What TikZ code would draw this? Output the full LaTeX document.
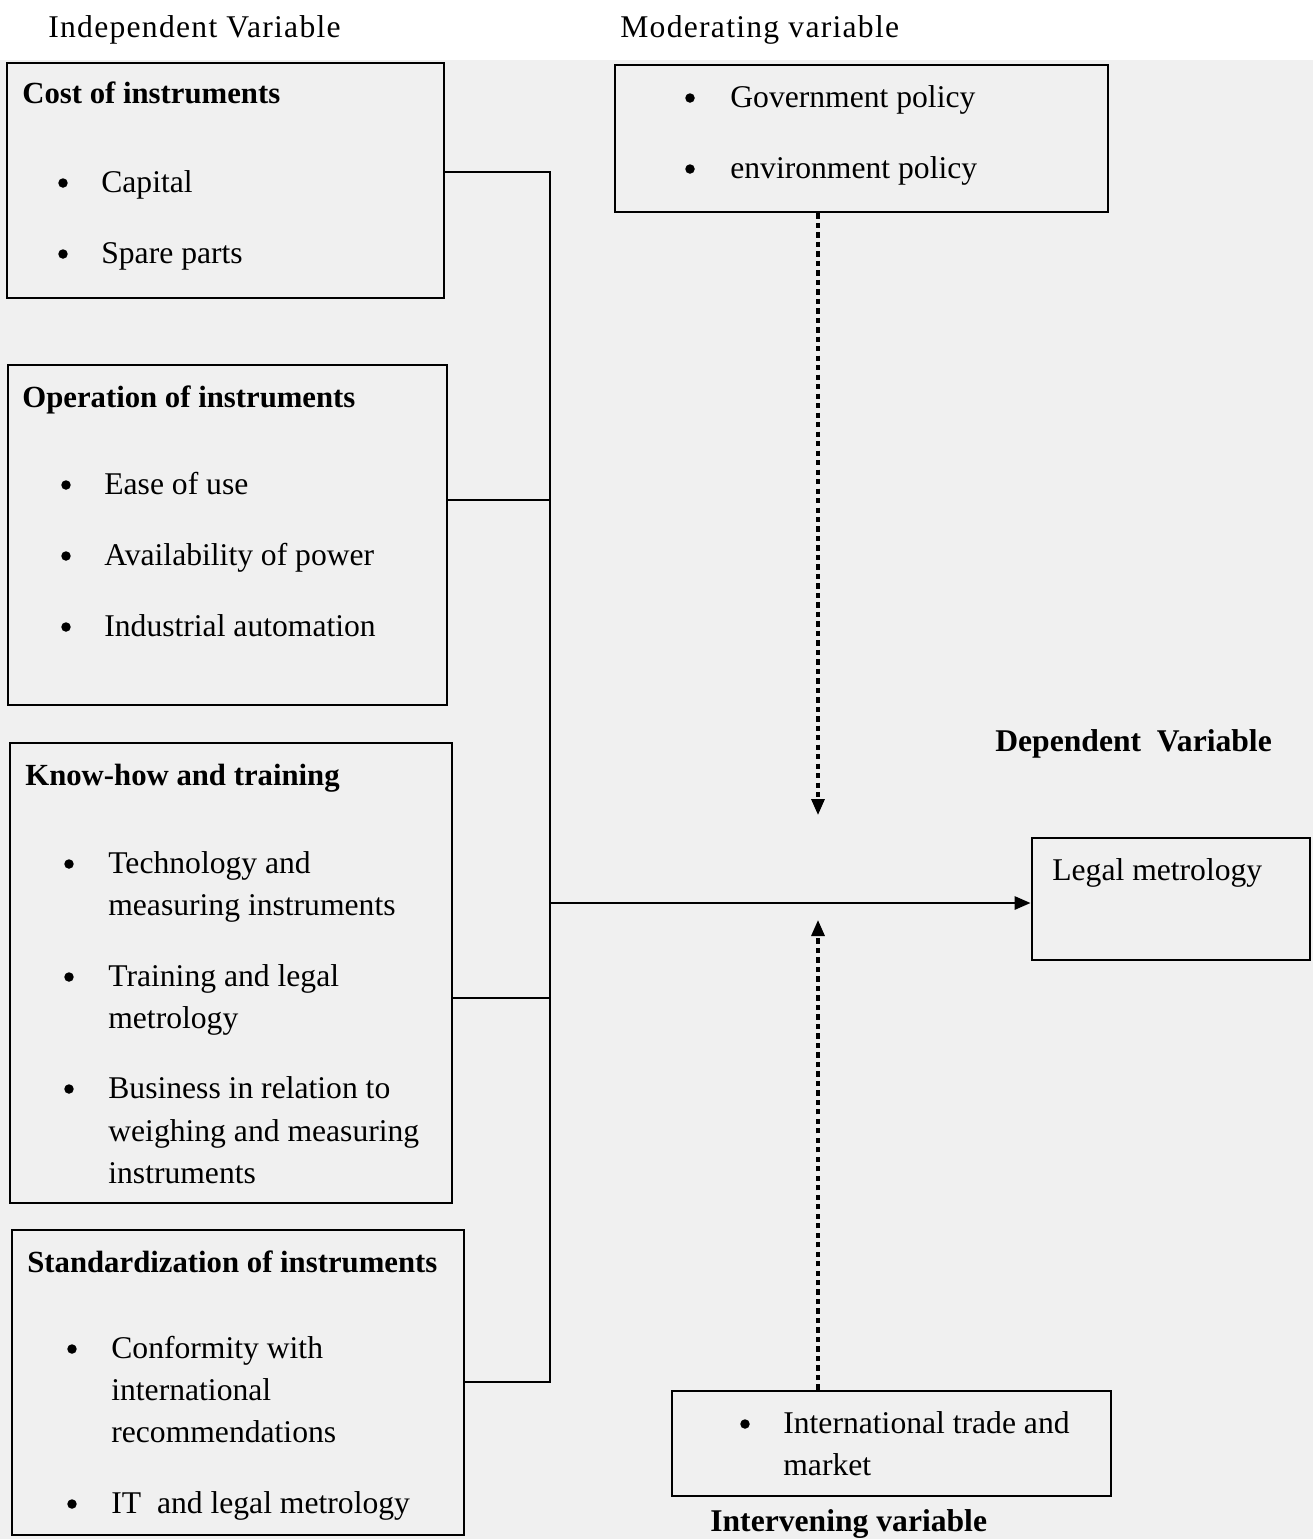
\documentclass[tikz,border=0pt]{standalone}
\usepackage{fontspec}
\setmainfont{Liberation Serif}
\usetikzlibrary{arrows.meta}

\tikzset{
  box/.style={draw, line width=1.6pt, inner sep=0pt},
  head/.style={anchor=base west, inner sep=0pt, font=\bfseries\fontsize{17.5}{21}\selectfont},
  item/.style={anchor=base west, inner sep=0pt, font=\fontsize{18}{22}\selectfont},
  dot/.style={circle, fill, inner sep=0pt, minimum size=0.19cm, yshift=0.18cm},
  link/.style={line width=1.6pt},
  dots/.style={line width=1.8pt, dash pattern=on 3pt off 2.4pt, -{Triangle[length=0.32cm,width=0.26cm]}}
}

\begin{document}
\begin{tikzpicture}[x=0.02cm, y=-0.02cm]
  \fill[black!6] (0,60) rectangle (1313,1539);
  \useasboundingbox (0,0) rectangle (1313,1539);

  % titles
  \node[item, font=\fontsize{18}{22}\selectfont\addfontfeature{LetterSpace=4}] (indep) at (48,37) {Independent Variable};
  \node[item, font=\fontsize{18}{22}\selectfont\addfontfeature{LetterSpace=4}] (moder) at (620,37) {Moderating variable};

  % boxes
  \node[box, minimum width=8.74cm, minimum height=4.70cm] (cost) at (225.5,180.5) {};
  \node[box, minimum width=8.78cm, minimum height=6.80cm] (oper) at (227.5,535) {};
  \node[box, minimum width=8.84cm, minimum height=9.20cm] (know) at (231,973) {};
  \node[box, minimum width=9.04cm, minimum height=6.10cm] (stand) at (238,1382.5) {};
  \node[box, minimum width=9.86cm, minimum height=2.94cm] (policy) at (861.5,138.5) {};
  \node[box, minimum width=5.56cm, minimum height=2.44cm] (legal) at (1171,899) {};
  \node[box, minimum width=8.78cm, minimum height=2.10cm] (trade) at (891.5,1443.5) {};

  % cost of instruments
  \node[head] (h1) at (22,103) {Cost of instruments};
  \node[dot] (b11) at (63,192) {};
  \node[item] (t11) at (101,192) {Capital};
  \node[dot] (b12) at (63,263) {};
  \node[item] (t12) at (101,263) {Spare parts};

  % operation of instruments
  \node[head] (h2) at (22,407) {Operation of instruments};
  \node[dot] (b21) at (66,494) {};
  \node[item] (t21) at (104,494) {Ease of use};
  \node[dot] (b22) at (66,565) {};
  \node[item] (t22) at (104,565) {Availability of power};
  \node[dot] (b23) at (66,636) {};
  \node[item] (t23) at (104,636) {Industrial automation};

  % know-how and training
  \node[head] (h3) at (25,785) {Know-how and training};
  \node[dot] (b31) at (69,873) {};
  \node[item] (t31) at (108,873) {Technology and};
  \node[item] (t31b) at (108,915) {measuring instruments};
  \node[dot] (b32) at (69,986) {};
  \node[item] (t32) at (108,986) {Training and legal};
  \node[item] (t32b) at (108,1028) {metrology};
  \node[dot] (b33) at (69,1098) {};
  \node[item] (t33) at (108,1098) {Business in relation to};
  \node[item] (t33b) at (108,1141) {weighing and measuring};
  \node[item] (t33c) at (108,1183) {instruments};

  % standardization of instruments
  \node[head] (h4) at (27,1272) {Standardization of instruments};
  \node[dot] (b41) at (72,1358) {};
  \node[item] (t41) at (111,1358) {Conformity with};
  \node[item] (t41b) at (111,1400) {international};
  \node[item] (t41c) at (111,1442) {recommendations};
  \node[dot] (b42) at (72,1513) {};
  \node[item] (t42) at (111,1513) {IT\ \ and legal metrology};

  % moderating
  \node[dot] (b51) at (690,107) {};
  \node[item] (t51) at (730,107) {Government policy};
  \node[dot] (b52) at (690,178) {};
  \node[item] (t52) at (730,178) {environment policy};

  % dependent
  \node[head, font=\bfseries\fontsize{18}{22}\selectfont] (dep) at (995,751) {Dependent\ \ Variable};
  \node[item] (t61) at (1052,880) {Legal metrology};

  % intervening
  \node[dot] (b71) at (745,1433) {};
  \node[item] (t71) at (783,1433) {International trade and};
  \node[item] (t71b) at (783,1475) {market};
  \node[head, font=\bfseries\fontsize{18}{22}\selectfont] (inter) at (710,1531) {Intervening variable};

  % bracket
  \coordinate (j1) at (550,172);
  \coordinate (j2) at (550,500);
  \coordinate (j0) at (550,903);
  \coordinate (j3) at (550,998);
  \coordinate (j4) at (550,1382);
  \draw[link] (cost.east |- j1) -- (j1) -- (j4) -- (stand.east |- j4);
  \draw[link] (oper.east |- j2) -- (j2);
  \draw[link] (know.east |- j3) -- (j3);
  \draw[link, -{Triangle[length=0.32cm,width=0.26cm]}] (j0) -- (j0 -| legal.west);

  % dotted arrows
  \coordinate (d1) at (818,815);
  \coordinate (d2) at (818,920);
  \draw[dots] (policy.south -| d1) -- (d1);
  \draw[dots] (trade.north -| d2) -- (d2);
\end{tikzpicture}
\end{document}
